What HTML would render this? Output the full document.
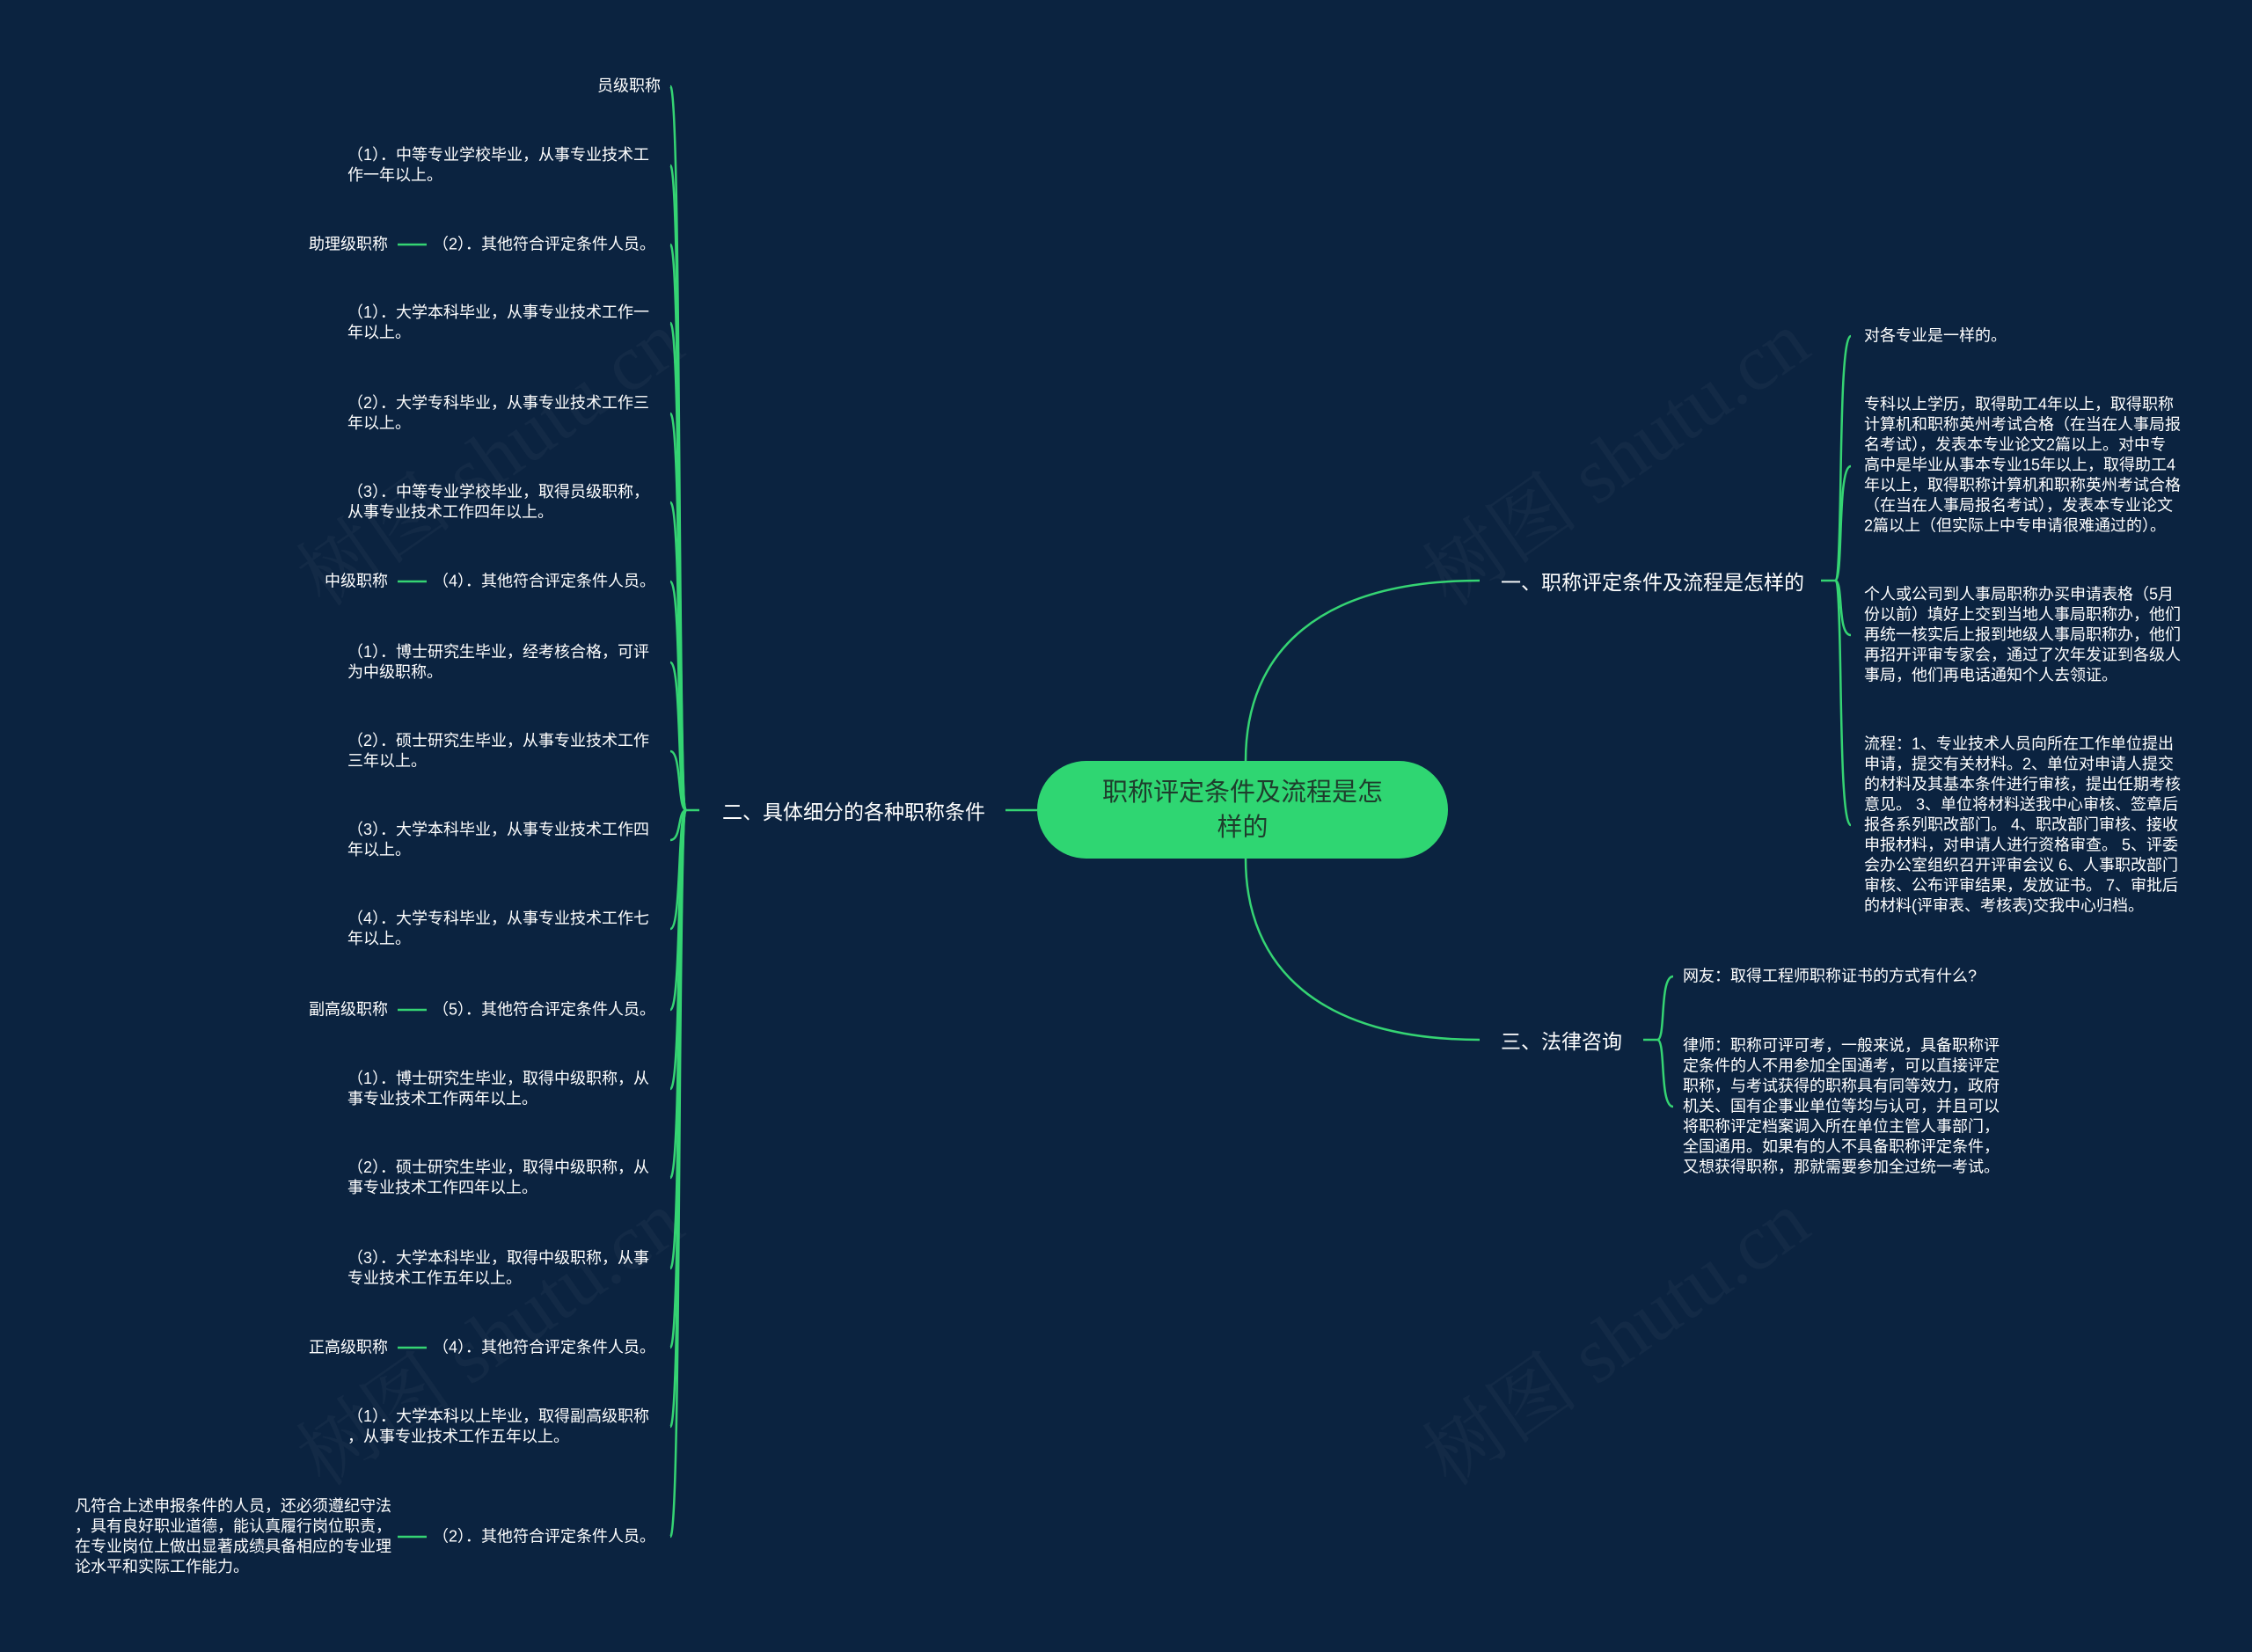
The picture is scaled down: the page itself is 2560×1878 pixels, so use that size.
<!DOCTYPE html>
<html><head><meta charset="utf-8"><style>
html,body{margin:0;padding:0}
body{width:2560px;height:1878px;background:#0b2340;position:relative;overflow:hidden;font-family:"Liberation Sans","Noto Sans CJK SC",sans-serif;color:#fff}
.t{position:absolute;font-size:18px;line-height:23px;white-space:nowrap;transform:translateY(-50%)}
.r{text-align:right}
.b{position:absolute;font-size:23px;white-space:nowrap;transform:translateY(-50%)}
.wm{position:absolute;font-size:90px;color:rgba(255,255,255,0.035);transform:rotate(-35deg);white-space:nowrap;font-family:"Liberation Serif","Noto Serif CJK SC",serif}
</style></head><body>
<div class="wm" style="left:300px;top:450px">树图 shutu.cn</div>
<div class="wm" style="left:300px;top:1450px">树图 shutu.cn</div>
<div class="wm" style="left:1580px;top:450px">树图 shutu.cn</div>
<div class="wm" style="left:1580px;top:1450px">树图 shutu.cn</div>
<svg width="2560" height="1878" style="position:absolute;left:0;top:0" fill="none" stroke="#35d473" stroke-width="2.5">
<path d="M1416 865 C1416 740 1500 660 1682 660"/>
<path d="M1416 976 C1416 1100 1500 1182 1682 1182"/>
<path d="M1179 921 L1143 921"/>
<path d="M2070 660 L2086 660"/>
<path d="M2086 660 C2096 660 2088 382 2104 382"/>
<path d="M2086 660 C2096 660 2088 530 2104 530"/>
<path d="M2086 660 C2096 660 2088 722 2104 722"/>
<path d="M2086 660 C2096 660 2088 938 2104 938"/>
<path d="M1868 1182 L1884 1182"/>
<path d="M1884 1182 C1894 1182 1886 1110 1902 1110"/>
<path d="M1884 1182 C1894 1182 1886 1258 1902 1258"/>
<path d="M795 921 L780 921"/>
<g>
<path d="M780 921 C770 921 775 98 762 98"/>
<path d="M780 921 C770 921 775 188 762 188"/>
<path d="M780 921 C770 921 775 278 762 278"/>
<path d="M780 921 C770 921 775 367 762 367"/>
<path d="M780 921 C770 921 775 470 762 470"/>
<path d="M780 921 C770 921 775 571 762 571"/>
<path d="M780 921 C770 921 775 661 762 661"/>
<path d="M780 921 C770 921 775 753 762 753"/>
<path d="M780 921 C770 921 775 854 762 854"/>
<path d="M780 921 C770 921 775 955 762 955"/>
<path d="M780 921 C770 921 775 1056 762 1056"/>
<path d="M780 921 C770 921 775 1148 762 1148"/>
<path d="M780 921 C770 921 775 1238 762 1238"/>
<path d="M780 921 C770 921 775 1339 762 1339"/>
<path d="M780 921 C770 921 775 1442 762 1442"/>
<path d="M780 921 C770 921 775 1532 762 1532"/>
<path d="M780 921 C770 921 775 1622 762 1622"/>
<path d="M780 921 C770 921 775 1747 762 1747"/>
</g>
<path d="M452 278 L485 278"/><path d="M452 661 L485 661"/><path d="M452 1148 L485 1148"/><path d="M452 1532 L485 1532"/><path d="M452 1747 L485 1747"/>
</svg>
<div style="position:absolute;left:1179px;top:865px;width:467px;height:111px;border-radius:56px;background:#2fd672;color:#1e3d2c;font-size:29px;line-height:40px;text-align:center;display:flex;align-items:center;justify-content:center;font-family:'Liberation Sans','Noto Sans CJK SC',sans-serif">职称评定条件及流程是怎<br>样的</div>
<div class="b" style="left:821px;top:921px">二、具体细分的各种职称条件</div>
<div class="b" style="left:1706px;top:660px">一、职称评定条件及流程是怎样的</div>
<div class="b" style="left:1706px;top:1182px">三、法律咨询</div>

<div class="t r" style="right:1809px;top:98px">员级职称</div>
<div class="t" style="left:395px;top:188px">（1）．中等专业学校毕业，从事专业技术工<br>作一年以上。</div>
<div class="t r" style="right:1815px;top:278px">（2）．其他符合评定条件人员。</div>
<div class="t" style="left:395px;top:367px">（1）．大学本科毕业，从事专业技术工作一<br>年以上。</div>
<div class="t" style="left:395px;top:470px">（2）．大学专科毕业，从事专业技术工作三<br>年以上。</div>
<div class="t" style="left:395px;top:571px">（3）．中等专业学校毕业，取得员级职称，<br>从事专业技术工作四年以上。</div>
<div class="t r" style="right:1815px;top:661px">（4）．其他符合评定条件人员。</div>
<div class="t" style="left:395px;top:753px">（1）．博士研究生毕业，经考核合格，可评<br>为中级职称。</div>
<div class="t" style="left:395px;top:854px">（2）．硕士研究生毕业，从事专业技术工作<br>三年以上。</div>
<div class="t" style="left:395px;top:955px">（3）．大学本科毕业，从事专业技术工作四<br>年以上。</div>
<div class="t" style="left:395px;top:1056px">（4）．大学专科毕业，从事专业技术工作七<br>年以上。</div>
<div class="t r" style="right:1815px;top:1148px">（5）．其他符合评定条件人员。</div>
<div class="t" style="left:395px;top:1238px">（1）．博士研究生毕业，取得中级职称，从<br>事专业技术工作两年以上。</div>
<div class="t" style="left:395px;top:1339px">（2）．硕士研究生毕业，取得中级职称，从<br>事专业技术工作四年以上。</div>
<div class="t" style="left:395px;top:1442px">（3）．大学本科毕业，取得中级职称，从事<br>专业技术工作五年以上。</div>
<div class="t r" style="right:1815px;top:1532px">（4）．其他符合评定条件人员。</div>
<div class="t" style="left:395px;top:1622px">（1）．大学本科以上毕业，取得副高级职称<br>，从事专业技术工作五年以上。</div>
<div class="t r" style="right:1815px;top:1747px">（2）．其他符合评定条件人员。</div>

<div class="t r" style="right:2119px;top:278px">助理级职称</div>
<div class="t r" style="right:2119px;top:661px">中级职称</div>
<div class="t r" style="right:2119px;top:1148px">副高级职称</div>
<div class="t r" style="right:2119px;top:1532px">正高级职称</div>
<div class="t" style="left:85px;top:1747px">凡符合上述申报条件的人员，还必须遵纪守法<br>，具有良好职业道德，能认真履行岗位职责，<br>在专业岗位上做出显著成绩具备相应的专业理<br>论水平和实际工作能力。</div>

<div class="t" style="left:2119px;top:382px">对各专业是一样的。</div>
<div class="t" style="left:2119px;top:529px">专科以上学历，取得助工4年以上，取得职称<br>计算机和职称英州考试合格（在当在人事局报<br>名考试），发表本专业论文2篇以上。对中专<br>高中是毕业从事本专业15年以上，取得助工4<br>年以上，取得职称计算机和职称英州考试合格<br>（在当在人事局报名考试），发表本专业论文<br>2篇以上（但实际上中专申请很难通过的）。</div>
<div class="t" style="left:2119px;top:722px">个人或公司到人事局职称办买申请表格（5月<br>份以前）填好上交到当地人事局职称办，他们<br>再统一核实后上报到地级人事局职称办，他们<br>再招开评审专家会，通过了次年发证到各级人<br>事局，他们再电话通知个人去领证。</div>
<div class="t" style="left:2119px;top:938px">流程：1、专业技术人员向所在工作单位提出<br>申请，提交有关材料。2、单位对申请人提交<br>的材料及其基本条件进行审核，提出任期考核<br>意见。 3、单位将材料送我中心审核、签章后<br>报各系列职改部门。 4、职改部门审核、接收<br>申报材料，对申请人进行资格审查。 5、评委<br>会办公室组织召开评审会议 6、人事职改部门<br>审核、公布评审结果，发放证书。 7、审批后<br>的材料(评审表、考核表)交我中心归档。</div>
<div class="t" style="left:1913px;top:1110px">网友：取得工程师职称证书的方式有什么?</div>
<div class="t" style="left:1913px;top:1258px">律师：职称可评可考，一般来说，具备职称评<br>定条件的人不用参加全国通考，可以直接评定<br>职称，与考试获得的职称具有同等效力，政府<br>机关、国有企事业单位等均与认可，并且可以<br>将职称评定档案调入所在单位主管人事部门，<br>全国通用。如果有的人不具备职称评定条件，<br>又想获得职称，那就需要参加全过统一考试。</div>
</body></html>
